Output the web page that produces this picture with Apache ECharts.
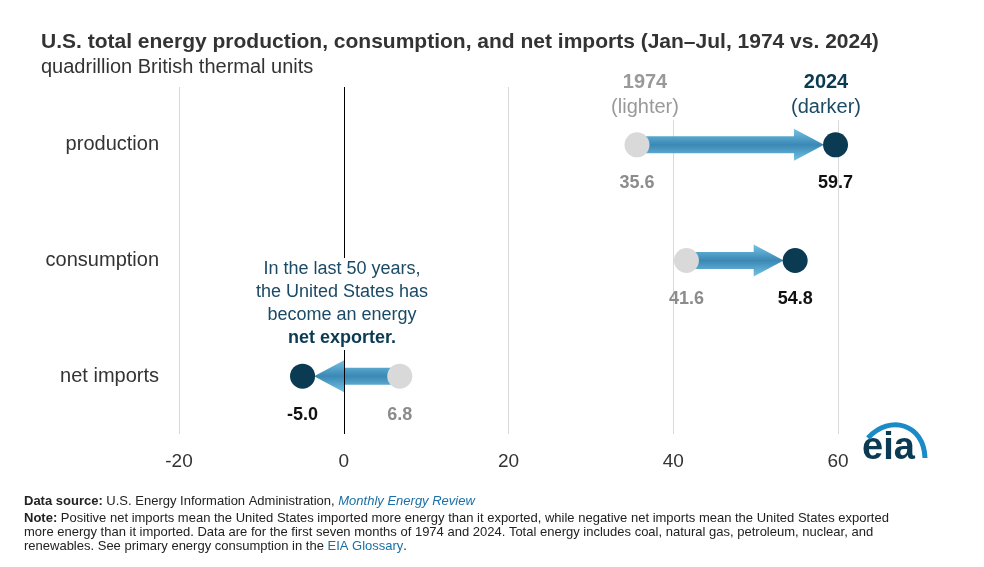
<!DOCTYPE html>
<html><head><meta charset="utf-8">
<script src="https://cdn.jsdelivr.net/npm/echarts@6/dist/echarts.min.js"></script>
<style>html,body{margin:0;padding:0;background:#fff}#c{width:984px;height:567px}</style>
</head><body><div id="c"></div>
<script>
var categories = ['production', 'consumption', 'net imports'];
var values1974 = [35.6, 41.6, 6.8];
var values2024 = [59.7, 54.8, -5.0];
var xTicks = [-20, 0, 20, 40, 60];

var chart = echarts.init(document.getElementById('c'));
var dotSize = 25;

function renderArrow(params, api) {
  var i = api.value(0);
  var s = api.coord([api.value(1), i]);
  var e = api.coord([api.value(2), i]);
  var dir = e[0] > s[0] ? 1 : -1;
  var tip = e[0] - dir * (dotSize / 2 - 1);
  var headLen = 30, shaft = 8.5, head = 16;
  var hb = tip - dir * headLen;
  var y = s[1];
  var grad = new echarts.graphic.LinearGradient(0, 0, 0, 1, [
    { offset: 0, color: '#74c3e4' }, { offset: 0.5, color: '#3a88b4' }, { offset: 1, color: '#74c3e4' }
  ]);
  return {
    type: 'polygon',
    shape: { points: [[s[0], y - shaft], [hb, y - shaft], [hb, y - head], [tip, y], [hb, y + head], [hb, y + shaft], [s[0], y + shaft]] },
    style: { fill: grad }
  };
}

var arrowData = categories.map(function (c, i) { return [i, values1974[i], values2024[i]]; });

chart.setOption({
  animation: false,
  textStyle: { fontFamily: 'Liberation Sans, Arial' },
  title: [
    { text: 'U.S. total energy production, consumption, and net imports (Jan\u2013Jul, 1974 vs. 2024)', left: 36, top: 27,
      textStyle: { fontSize: 21, fontWeight: 'bold', color: '#333' } },
    { text: 'quadrillion British thermal units', left: 36, top: 52, textStyle: { fontSize: 20, fontWeight: 'normal', color: '#333' } }
  ],
  grid: { left: 179, right: 146, top: 87, bottom: 133 },
  xAxis: {
    type: 'value', min: -20, max: 60, interval: 20,
    axisLine: { show: false }, axisTick: { show: false },
    splitLine: { lineStyle: { color: '#d9d9d9' } },
    axisLabel: { fontSize: 19, color: '#333', margin: 18,
      formatter: function (v) { return xTicks.indexOf(v) >= 0 ? String(v) : ''; } }
  },
  yAxis: {
    type: 'category', data: categories, inverse: true,
    axisLine: { show: false }, axisTick: { show: false },
    axisLabel: { fontSize: 20, color: '#333', margin: 20 }
  },
  series: [
    { type: 'custom', renderItem: renderArrow, data: arrowData, z: 2,
      markLine: { silent: true, symbol: 'none', label: { show: false },
        lineStyle: { color: '#000', type: 'solid', width: 1 }, data: [{ xAxis: 0 }] } },
    { type: 'scatter', symbolSize: dotSize, z: 3, itemStyle: { color: '#d9d9d9', opacity: 1 },
      data: values1974.map(function (v, i) { return [v, i]; }),
      label: { show: true, position: 'bottom', distance: 17, fontSize: 18, fontWeight: 'bold', color: '#8c8c8c',
        formatter: function (p) { return p.value[0].toFixed(1); } } },
    { type: 'scatter', symbolSize: dotSize, z: 3, itemStyle: { color: '#0b3a53', opacity: 1 },
      data: values2024.map(function (v, i) { return [v, i]; }),
      label: { show: true, position: 'bottom', distance: 17, fontSize: 18, fontWeight: 'bold', color: '#111',
        formatter: function (p) { return p.value[0].toFixed(1); } } }
  ],
  graphic: [
    { type: 'text', x: 645, y: 70, z: 100, style: { text: '1974\n{n|(lighter)}', align: 'center', fontSize: 20, fontWeight: 'bold', lineHeight: 25, fill: '#999',
      backgroundColor: '#fff', padding: [0, 2], rich: { n: { fontWeight: 'normal', fontSize: 20, fill: '#999', color: '#999' } } } },
    { type: 'text', x: 826, y: 70, z: 100, style: { text: '2024\n{n|(darker)}', align: 'center', fontSize: 20, fontWeight: 'bold', lineHeight: 25, fill: '#0b3a53',
      backgroundColor: '#fff', padding: [0, 2], rich: { n: { fontWeight: 'normal', fontSize: 20, fill: '#1b4a66', color: '#1b4a66' } } } },
    { type: 'text', x: 342, y: 258, z: 100, style: { text: 'In the last 50 years,\nthe United States has\nbecome an energy\n{b|net exporter.}',
      align: 'center', fontSize: 18, lineHeight: 23, fill: '#1b4a66', backgroundColor: '#fff', padding: [0, 4],
      rich: { b: { fontWeight: 'bold', fontSize: 18, fill: '#0b3a53', color: '#0b3a53' } } } },
    { type: 'text', x: 862, y: 430, style: { text: 'eia', fontSize: 38, fontWeight: 'bold', fill: '#0b3a53', fontFamily: 'Liberation Sans' } },
    { type: 'bezierCurve', shape: { x1: 868, y1: 438, cpx1: 890, cpy1: 414, x2: 925, y2: 458, cpx2: 924, cpy2: 424 },
      style: { stroke: '#1a8bc6', lineWidth: 5, fill: null } },
    { type: 'text', x: 24, y: 495, style: { text: '{b|Data source:} U.S. Energy Information Administration, {l|Monthly Energy Review}',
      fontSize: 13, fill: '#222', rich: { b: { fontWeight: 'bold', fontSize: 13 }, l: { fontStyle: 'italic', fill: '#1a6fa6', color: '#1a6fa6', fontSize: 13 } } } },
    { type: 'text', x: 24, y: 511, style: { text: '{b|Note:} Positive net imports mean the United States imported more energy than it exported, while negative net imports mean the United States exported\nmore energy than it imported. Data are for the first seven months of 1974 and 2024. Total energy includes coal, natural gas, petroleum, nuclear, and\nrenewables. See primary energy consumption in the {l|EIA Glossary}.',
      fontSize: 13, lineHeight: 14, fill: '#222', rich: { b: { fontWeight: 'bold', fontSize: 13 }, l: { fill: '#1a6fa6', color: '#1a6fa6', fontSize: 13 } } } }
  ]
});
</script></body></html>
